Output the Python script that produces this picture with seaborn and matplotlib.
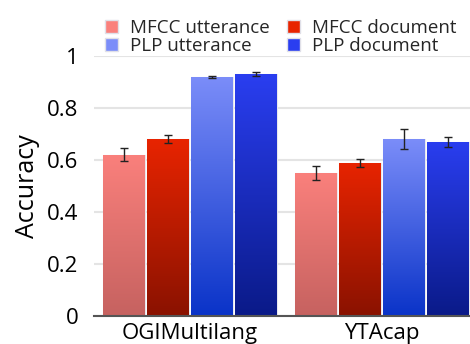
import numpy as np
import pandas as pd
import matplotlib
matplotlib.use("Agg")
import matplotlib.pyplot as plt
import seaborn as sns
from matplotlib.colors import LinearSegmentedColormap
from matplotlib.patches import Patch

# data
datasets = ["OGIMultilang", "YTAcap"]
features = ["MFCC utterance", "MFCC document", "PLP utterance", "PLP document"]
acc_ogi = [0.62, 0.68, 0.92, 0.93]
acc_yta = [0.55, 0.59, 0.68, 0.67]
err_ogi = [0.025, 0.015, 0.005, 0.008]
err_yta = [0.028, 0.015, 0.038, 0.02]

# gradient colours (top, bottom) per feature
top_colors = ["#fa807c", "#e82400", "#7b8df9", "#2a3ef0"]
bottom_colors = ["#c66260", "#8a1200", "#0a33c8", "#0a1a88"]

df = pd.DataFrame({
    "Dataset": np.repeat(datasets, len(features)),
    "Feature": features * len(datasets),
    "Accuracy": acc_ogi + acc_yta,
    "Err": err_ogi + err_yta,
})

sns.set_style("white")
plt.rcParams["font.family"] = ["Open Sans", "DejaVu Sans"]

fig = plt.figure(figsize=(4.7, 3.44), dpi=100)
ax = fig.add_axes([94 / 470, 28 / 344, 384 / 470, 260 / 344])

sns.barplot(data=df, x="Dataset", y="Accuracy", hue="Feature", hue_order=features,
            order=datasets, palette=top_colors, width=0.92, gap=0.06,
            errorbar=None, legend=False, ax=ax, edgecolor="#e8e8ee", linewidth=0.8)

# gradient fill + error bars
for i, feat in enumerate(features):
    cont = ax.containers[i]
    cmap = LinearSegmentedColormap.from_list(feat, [bottom_colors[i], top_colors[i]])
    for j, bar in enumerate(cont):
        x0 = bar.get_x()
        w = bar.get_width()
        h = bar.get_height()
        grad = np.linspace(0, 1, 256).reshape(-1, 1)
        im = ax.imshow(grad, cmap=cmap, origin="lower", aspect="auto",
                       extent=[x0, x0 + w, 0, h], zorder=bar.get_zorder() + 0.1)
        im.set_clip_path(bar)
        sub = df[(df["Feature"] == feat) & (df["Dataset"] == datasets[j])]
        ax.errorbar(x0 + w / 2, h, yerr=sub["Err"].values[0], color="#222222",
                    elinewidth=1.0, capsize=3, capthick=1.0, zorder=5)

ax.set_xlim(-0.5, 1.5)
ax.set_ylim(0, 1.0)
ax.set_yticks([0, 0.2, 0.4, 0.6, 0.8, 1.0])
ax.set_yticklabels(["0", "0.2", "0.4", "0.6", "0.8", "1"])
ax.yaxis.grid(True, color="#e4e4e4", linewidth=1.5)
ax.set_axisbelow(True)
ax.tick_params(axis="both", length=0, labelsize=16, colors="#000000")
ax.tick_params(axis="y", pad=11)
ax.tick_params(axis="x", pad=5)
ax.set_xlabel("")
ax.set_ylabel("Accuracy", fontsize=18, labelpad=5, color="#000000")
sns.despine(ax=ax, left=True, right=True, top=True)
ax.spines["bottom"].set_color("#555555")
ax.spines["bottom"].set_linewidth(1.5)

# legend fills column-wise, so order handles to get MFCC on the first row
order = [0, 2, 1, 3]
handles = [Patch(facecolor=top_colors[i], edgecolor="#e0e0e8") for i in order]
labels = [features[i] for i in order]
fig.legend(handles, labels, ncol=2, loc="upper left", bbox_to_anchor=(92 / 470, 1 - 6 / 344),
           frameon=False, fontsize=13.5, handlelength=0.7, handleheight=0.7,
           handletextpad=0.65, columnspacing=0.9, labelspacing=0.0, borderpad=0.2)

fig.savefig("out.png", dpi=100)
